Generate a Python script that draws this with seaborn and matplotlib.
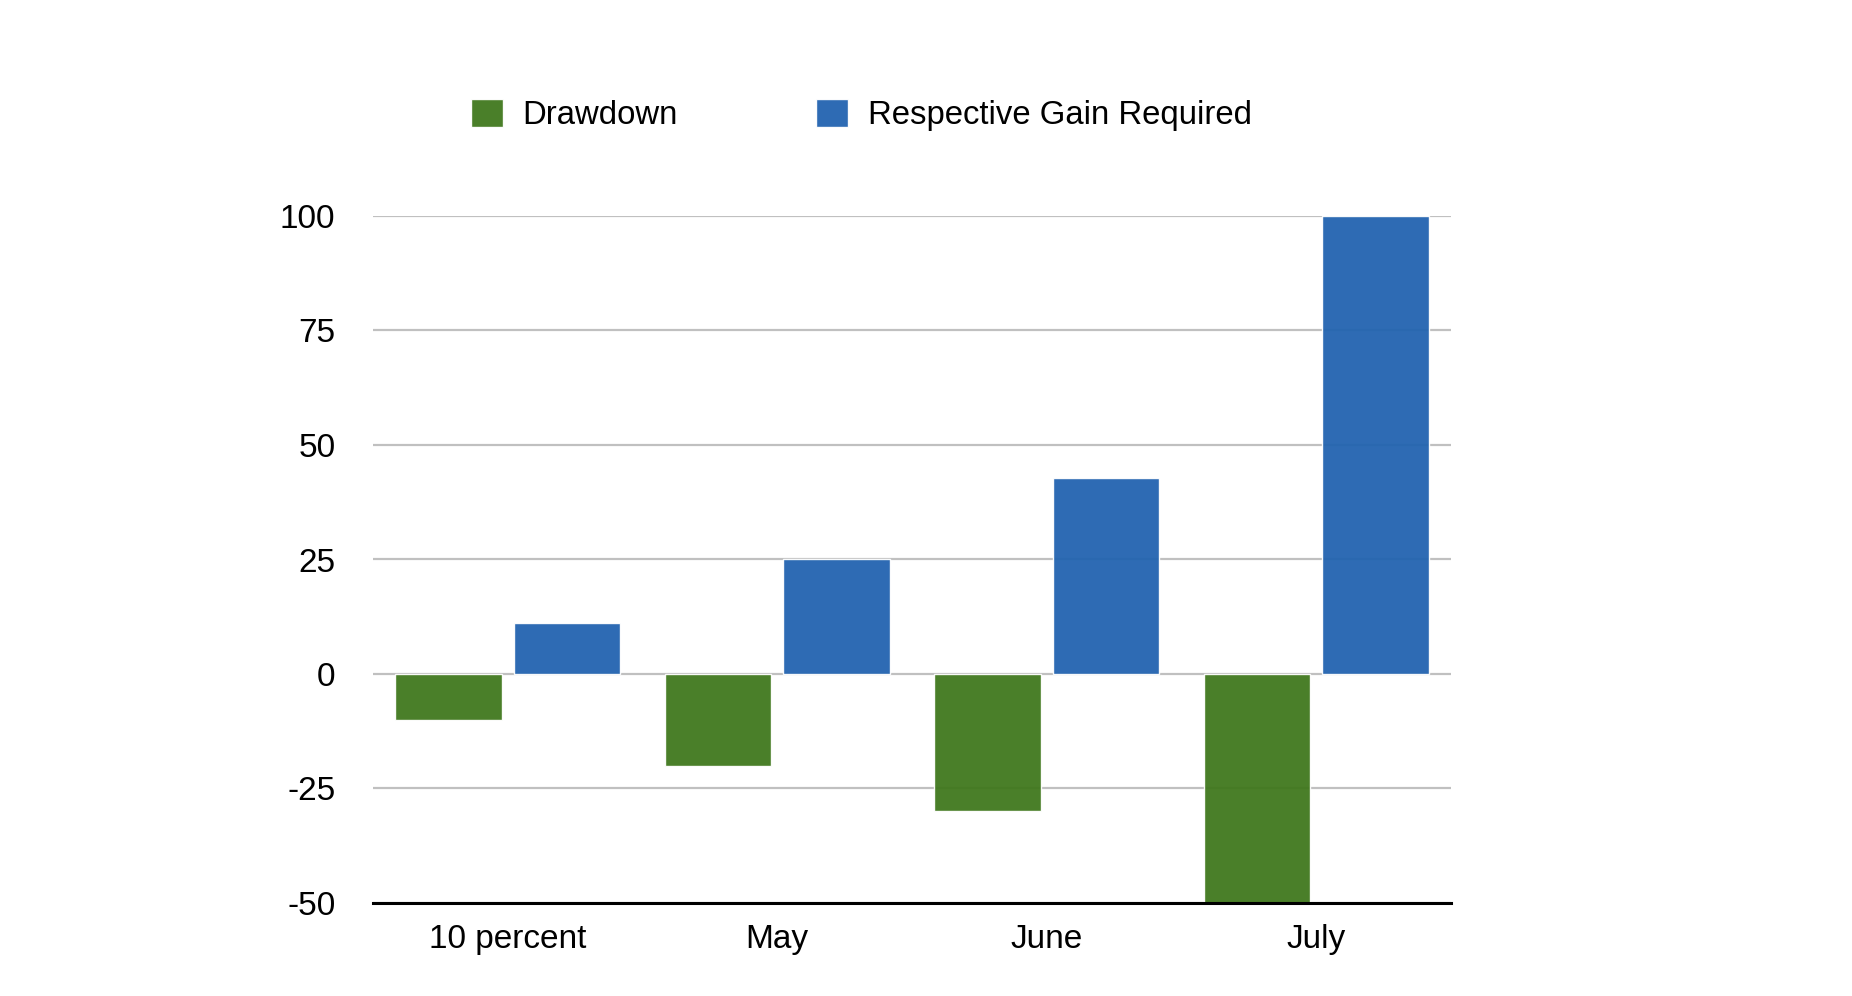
import pandas as pd
import numpy as np
import matplotlib
matplotlib.use("Agg")
import matplotlib.pyplot as plt
import seaborn as sns

categories = ["10 percent", "May", "June", "July"]
drawdown = [-10, -20, -30, -50]
gain_required = [11.1, 25, 42.9, 100]
series_names = ["Drawdown", "Respective Gain Required"]
y_ticks = [-50, -25, 0, 25, 50, 75, 100]

df = pd.DataFrame({
    "category": categories * 2,
    "series": [series_names[0]] * 4 + [series_names[1]] * 4,
    "value": drawdown + gain_required,
})

sns.set_theme(style="white")
plt.rcParams["font.family"] = ["Liberation Sans", "DejaVu Sans"]
plt.rcParams["text.color"] = "black"

fig = plt.figure(figsize=(18.52, 9.96), dpi=100)
ax = fig.add_axes([373 / 1852, 1 - 903 / 996, (1451 - 373) / 1852, (903 - 216) / 996])

palette = {series_names[0]: "#40781d", series_names[1]: "#2263b0"}
sns.barplot(data=df, x="category", y="value", hue="series", order=categories,
            hue_order=series_names, palette=palette, width=0.88, gap=0.1,
            alpha=0.95, saturation=1, ax=ax, zorder=2)

ax.set_ylim(-50, 100)
ax.set_xlim(-0.5, 3.5)
ax.set_yticks(y_ticks)
ax.set_yticklabels([str(t) for t in y_ticks])
ax.yaxis.grid(True, color="#c0c0c0", linewidth=1.6, zorder=0)
ax.set_axisbelow(True)
ax.set_xlabel("")
ax.set_ylabel("")
for s in ["top", "right", "left"]:
    ax.spines[s].set_visible(False)
ax.spines["bottom"].set_color("black")
ax.spines["bottom"].set_linewidth(2.2)
ax.spines["bottom"].set_zorder(3)
ax.tick_params(axis="y", length=0, pad=27, labelsize=24, labelcolor="black")
ax.tick_params(axis="x", length=0, pad=15, labelsize=24, labelcolor="black")

handles, labels = ax.get_legend_handles_labels()
ax.get_legend().remove()
leg = fig.legend(handles, labels, loc="center left", bbox_to_anchor=(471 / 1852, 1 - 115 / 996),
                 ncol=2, frameon=False, fontsize=23.7, handlelength=0.97, handleheight=0.97,
                 handletextpad=0.6, columnspacing=4.2, borderpad=0, borderaxespad=0)
for t in leg.get_texts():
    t.set_color("black")

fig.savefig("out.png", dpi=100, facecolor="white")
